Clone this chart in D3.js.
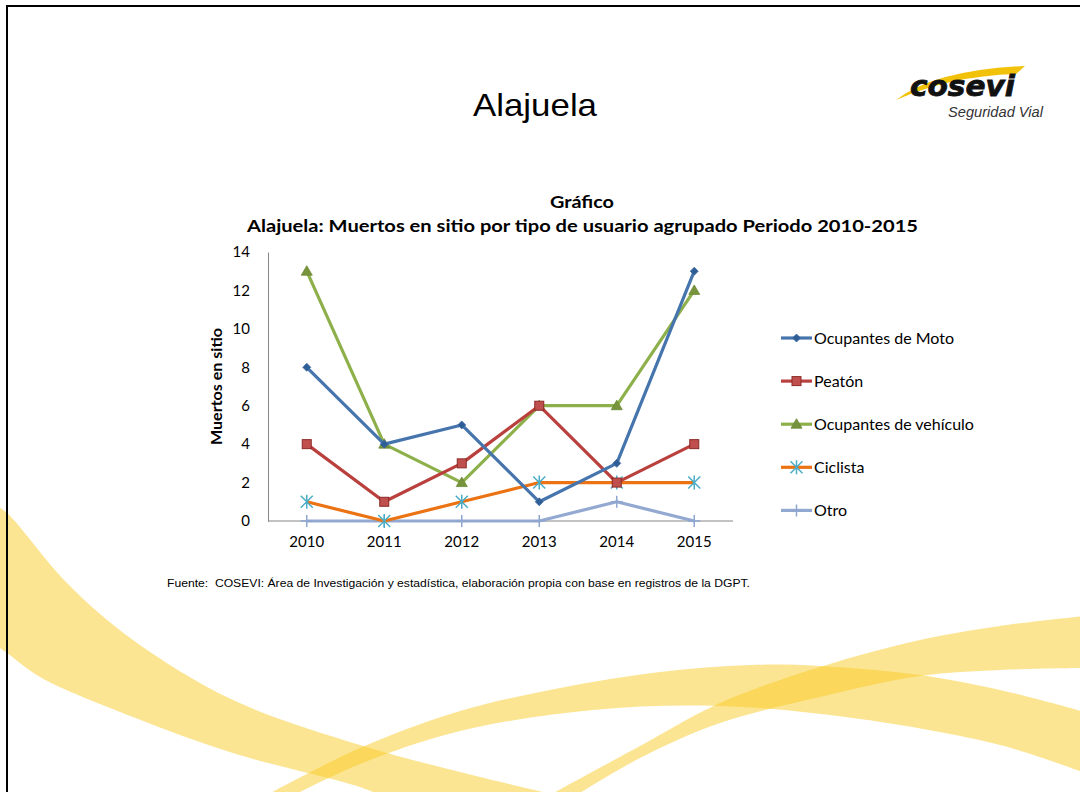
<!DOCTYPE html>
<html><head><meta charset="utf-8">
<script src="https://cdn.jsdelivr.net/npm/d3@7"></script>
<style>body{margin:0;background:#fff}svg{display:block}text{white-space:pre}</style>
</head><body>
<svg id="c" width="1080" height="792"></svg>
<script>
const years = ["2010","2011","2012","2013","2014","2015"];
const seriesNames = ["Ocupantes de Moto","Peatón","Ocupantes de vehículo","Ciclista","Otro"];
const moto = [8,4,5,1,3,13];
const peaton = [4,1,3,6,2,4];
const vehiculo = [13,4,2,6,6,12];
const ciclista = [1,0,1,2,2,2];
const otro = [0,0,0,0,1,0];
const yTicks = [0,2,4,6,8,10,12,14];

const seriesValues = [moto, peaton, vehiculo, ciclista, otro];
const lineColors = ["#4675AD","#B9403D","#8EB04B","#EB7314","#93A9D1"];
const markerTypes = ["diamond","square","triangle","asterisk","plus"];

const svg = d3.select("#c");
const font = "Lato, 'Open Sans', sans-serif";

// background ribbons
const curve = d3.line().curve(d3.curveCatmullRom.alpha(0.5));
function ribbon(upper, lower){
  return curve(upper) + "L" + curve(lower.slice().reverse()).slice(1) + "Z";
}
const bg = svg.append("g").attr("fill","#F9CB25").attr("fill-opacity",0.5);
bg.append("path").attr("d", ribbon(
  [[-5,505],[7,513],[67,583],[133,640],[233,700],[360,745],[460,772],[560,796]],
  [[-5,645],[7,653],[40,677],[133,717],[233,753],[360,787],[382,796]]));
bg.append("path").attr("d", ribbon(
  [[265,796],[360,748],[460,711],[560,688],[660,672],[750,665],[820,666],[920,675],[1000,690],[1085,712]],
  [[292,796],[360,764],[460,731],[593,710],[720,706],[853,718],[1000,745],[1085,773]]));
bg.append("path").attr("d", ribbon(
  [[548,796],[640,746],[720,703],[820,667],[920,640],[1000,626],[1085,616]],
  [[575,796],[640,758],[720,723],[820,697],[920,676],[1000,670],[1085,668]]));

// frame
svg.append("path").attr("d","M7,800 V6 H1090").attr("fill","none").attr("stroke","#000").attr("stroke-width",2);

// logo
svg.append("path").attr("d","M896,100 Q935,70 1025,66 L1016,74 Q950,76 896,100 Z").attr("fill","#F2C20A");
svg.append("text").attr("x",910).attr("y",96).attr("font-family","'DejaVu Sans', Arial, sans-serif")
  .attr("font-weight","bold").attr("font-style","italic").attr("font-size",29).attr("fill","#111")
  .attr("stroke","#111").attr("stroke-width",0.8)
  .attr("textLength",105).attr("lengthAdjust","spacingAndGlyphs").text("cosevi");
svg.append("text").attr("x",948).attr("y",117).attr("font-family","Arial, 'Liberation Sans', sans-serif")
  .attr("font-style","italic").attr("font-size",14).attr("fill","#333")
  .attr("textLength",95).attr("lengthAdjust","spacingAndGlyphs").text("Seguridad Vial");

// main title
svg.append("text").attr("x",535).attr("y",116).attr("text-anchor","middle")
  .attr("font-family","Arial, 'Liberation Sans', sans-serif").attr("font-size",32).attr("fill","#000")
  .attr("textLength",124).attr("lengthAdjust","spacingAndGlyphs").text("Alajuela");

// chart titles
svg.append("text").attr("x",582).attr("y",208).attr("text-anchor","middle").attr("font-family",font)
  .attr("font-weight","bold").attr("font-size",17).attr("textLength",64).attr("lengthAdjust","spacingAndGlyphs").text("Gráfico");
svg.append("text").attr("x",582.5).attr("y",232).attr("text-anchor","middle").attr("font-family",font)
  .attr("font-weight","bold").attr("font-size",17).attr("textLength",671).attr("lengthAdjust","spacingAndGlyphs")
  .text("Alajuela: Muertos en sitio por tipo de usuario agrupado Periodo 2010-2015");

// scales
const x = d3.scaleBand().domain(years).range([268,733]);
const y = d3.scaleLinear().domain([0,14]).range([521,252]);
const cx = d => x(d) + x.bandwidth()/2;

// axes
const yAxis = svg.append("g").attr("transform","translate(268,0)")
  .call(d3.axisLeft(y).tickValues(yTicks).tickSize(0).tickPadding(18));
yAxis.select(".domain").attr("stroke","#868686");
yAxis.selectAll("text").attr("font-family",font).attr("font-size",15).attr("fill","#000");
const xAxis = svg.append("g").attr("transform","translate(0,521)")
  .call(d3.axisBottom(x).tickSize(0).tickPadding(15));
xAxis.select(".domain").attr("stroke","#868686").attr("d","M268,0H733");
xAxis.selectAll("text").attr("font-family",font).attr("font-size",15).attr("fill","#000");

svg.append("text").attr("transform","translate(222,386.5) rotate(-90)").attr("text-anchor","middle")
  .attr("font-family",font).attr("font-weight","bold").attr("font-size",15.5)
  .attr("textLength",117).attr("lengthAdjust","spacingAndGlyphs").text("Muertos en sitio");

// markers
function drawMarker(g, type, px, py, color){
  if(type==="diamond"){
    g.append("path").attr("d",`M${px},${py-4}L${px+4},${py}L${px},${py+4}L${px-4},${py}Z`).attr("fill","#2F5D95").attr("stroke","#3D6BA5").attr("stroke-width",0.8);
  } else if(type==="square"){
    g.append("rect").attr("x",px-4.5).attr("y",py-4.5).attr("width",9).attr("height",9).attr("fill","#C0504D").attr("stroke","#8C2A27").attr("stroke-width",1);
  } else if(type==="triangle"){
    g.append("path").attr("d",`M${px},${py-5.5}L${px+5.5},${py+4}L${px-5.5},${py+4}Z`).attr("fill","#77933C").attr("stroke","#6B8A33").attr("stroke-width",0.8);
  } else if(type==="asterisk"){
    const r=6;
    g.append("path").attr("d",`M${px-r},${py-r}L${px+r},${py+r}M${px-r},${py+r}L${px+r},${py-r}M${px},${py-r-1}L${px},${py+r+1}`).attr("stroke","#4BACC6").attr("stroke-width",1.5).attr("fill","none");
  } else if(type==="plus"){
    g.append("path").attr("d",`M${px-6},${py}L${px+6},${py}M${px},${py-6}L${px},${py+6}`).attr("stroke","#8EA6D0").attr("stroke-width",1.5).attr("fill","none");
  }
}

const line = d3.line().x((d,i)=>cx(years[i])).y(d=>y(d));
for(let s=seriesValues.length-1; s>=0; s--){
  const g = svg.append("g");
  g.append("path").attr("d", line(seriesValues[s])).attr("fill","none").attr("stroke",lineColors[s])
    .attr("stroke-width",3.2).attr("stroke-linejoin","round");
  seriesValues[s].forEach((v,i)=>drawMarker(g, markerTypes[s], cx(years[i]), y(v), lineColors[s]));
}

// legend
const leg = svg.append("g");
seriesNames.forEach((n,i)=>{
  const ly = 338 + i*43.1;
  leg.append("line").attr("x1",781).attr("x2",812).attr("y1",ly).attr("y2",ly).attr("stroke",lineColors[i]).attr("stroke-width",3.2);
  drawMarker(leg, markerTypes[i], 796.5, ly, lineColors[i]);
  leg.append("text").attr("x",814).attr("y",ly+5.5).attr("font-family",font).attr("font-size",16).attr("fill","#000").text(n);
});

// source
svg.append("text").attr("x",167).attr("y",587).attr("font-family","Arial, 'Liberation Sans', sans-serif")
  .attr("font-size",10).attr("fill","#000").attr("textLength",583).attr("lengthAdjust","spacingAndGlyphs")
  .text("Fuente:  COSEVI: Área de Investigación y estadística, elaboración propia con base en registros de la DGPT.");
</script>
</body></html>
